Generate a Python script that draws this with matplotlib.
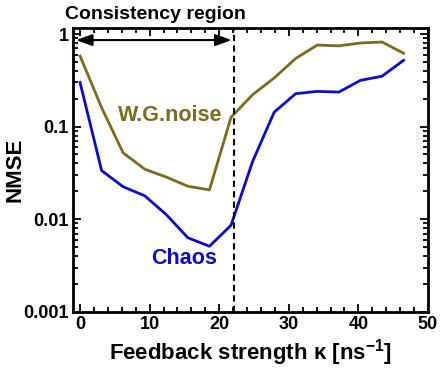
import matplotlib
matplotlib.use("Agg")
import matplotlib.pyplot as plt
from matplotlib.ticker import MultipleLocator, LogLocator, NullFormatter, FixedLocator, FixedFormatter

plt.rcParams['font.family'] = ['Liberation Sans', 'DejaVu Sans']
plt.rcParams['font.weight'] = 'bold'
plt.rcParams['mathtext.fontset'] = 'custom'
plt.rcParams['mathtext.rm'] = 'Liberation Sans:bold'
plt.rcParams['mathtext.bf'] = 'Liberation Sans:bold'
plt.rcParams['mathtext.it'] = 'Liberation Sans:bold'

kappa = [0, 3.1, 6.2, 9.3, 12.4, 15.5, 18.6, 21.7, 24.8, 27.9, 31.0, 34.1, 37.2, 40.3, 43.4, 46.5]
chaos = [0.30, 0.0335, 0.0224, 0.0179, 0.0112, 0.0063, 0.0051, 0.0086, 0.042, 0.143,
         0.227, 0.24, 0.236, 0.316, 0.35, 0.52]
wg_kappa = [0, 3.1, 6.2, 9.3, 12.4, 15.5, 18.6]
wg_left = [0.58, 0.16, 0.052, 0.0347, 0.0285, 0.0227, 0.0207]
wg_kappa_right = [21.7, 24.8, 27.9, 31.0, 34.1, 37.2, 40.3, 43.4, 46.5]
wg_right = [0.126, 0.221, 0.335, 0.545, 0.76, 0.745, 0.80, 0.82, 0.62]
boundary = 22.1

olive = '#7d6a1c'
blue = '#0a0ad8'

fig = plt.figure(figsize=(4.43, 3.69), dpi=100)
ax = fig.add_axes([0.165, 0.155, 0.801, 0.769])

wg_x = wg_kappa + wg_kappa_right
wg_y = wg_left + wg_right
ax.plot(wg_x, wg_y, color=olive, lw=2.0)
ax.plot(kappa, chaos, color=blue, lw=2.0)
ax.axvline(boundary, color='black', ls=(0, (3, 2)), lw=1.5)
ax.annotate('', xy=(-0.6, 0.86), xytext=(boundary - 0.3, 0.86),
            arrowprops=dict(arrowstyle='<|-|>,head_length=0.7,head_width=0.25',
                            color='black', lw=1.5,
                            mutation_scale=14, shrinkA=0, shrinkB=0))

ax.set_yscale('log')
ax.set_xlim(-1, 50)
ax.set_ylim(0.001, 1.16)

ax.xaxis.set_major_locator(MultipleLocator(10))
ax.xaxis.set_minor_locator(MultipleLocator(2))
ax.yaxis.set_major_locator(FixedLocator([0.001, 0.01, 0.1, 1]))
ax.yaxis.set_major_formatter(FixedFormatter(['0.001', '0.01', '0.1', '1']))
ax.yaxis.set_minor_locator(LogLocator(base=10, subs=range(2, 10)))
ax.yaxis.set_minor_formatter(NullFormatter())

ax.tick_params(which='both', direction='in', top=True, right=True, width=1.3,
               labelsize=13, pad=3)
ax.tick_params(which='major', length=6)
ax.tick_params(which='minor', length=3.5)
for lab in ax.get_xticklabels() + ax.get_yticklabels():
    lab.set_fontweight('bold')
for s in ax.spines.values():
    s.set_linewidth(2)

ax.set_xlabel('Feedback strength κ [ns$^{-1}$]',
              fontsize=16, fontweight='bold', labelpad=3)
ax.set_ylabel('NMSE', fontsize=16, fontweight='bold')
ax.yaxis.set_label_coords(-0.135, 0.5)

ax.text(12.9, 0.132, 'W.G.noise', color=olive, fontsize=15.5, fontweight='bold',
        ha='center', va='center')
ax.text(15.0, 0.0038, 'Chaos', color=blue, fontsize=15.5, fontweight='bold',
        ha='center', va='center')
fig.text(0.147, 0.962, 'Consistency region', fontsize=14, fontweight='bold',
         ha='left', va='center')

fig.savefig('out.png', dpi=100)
